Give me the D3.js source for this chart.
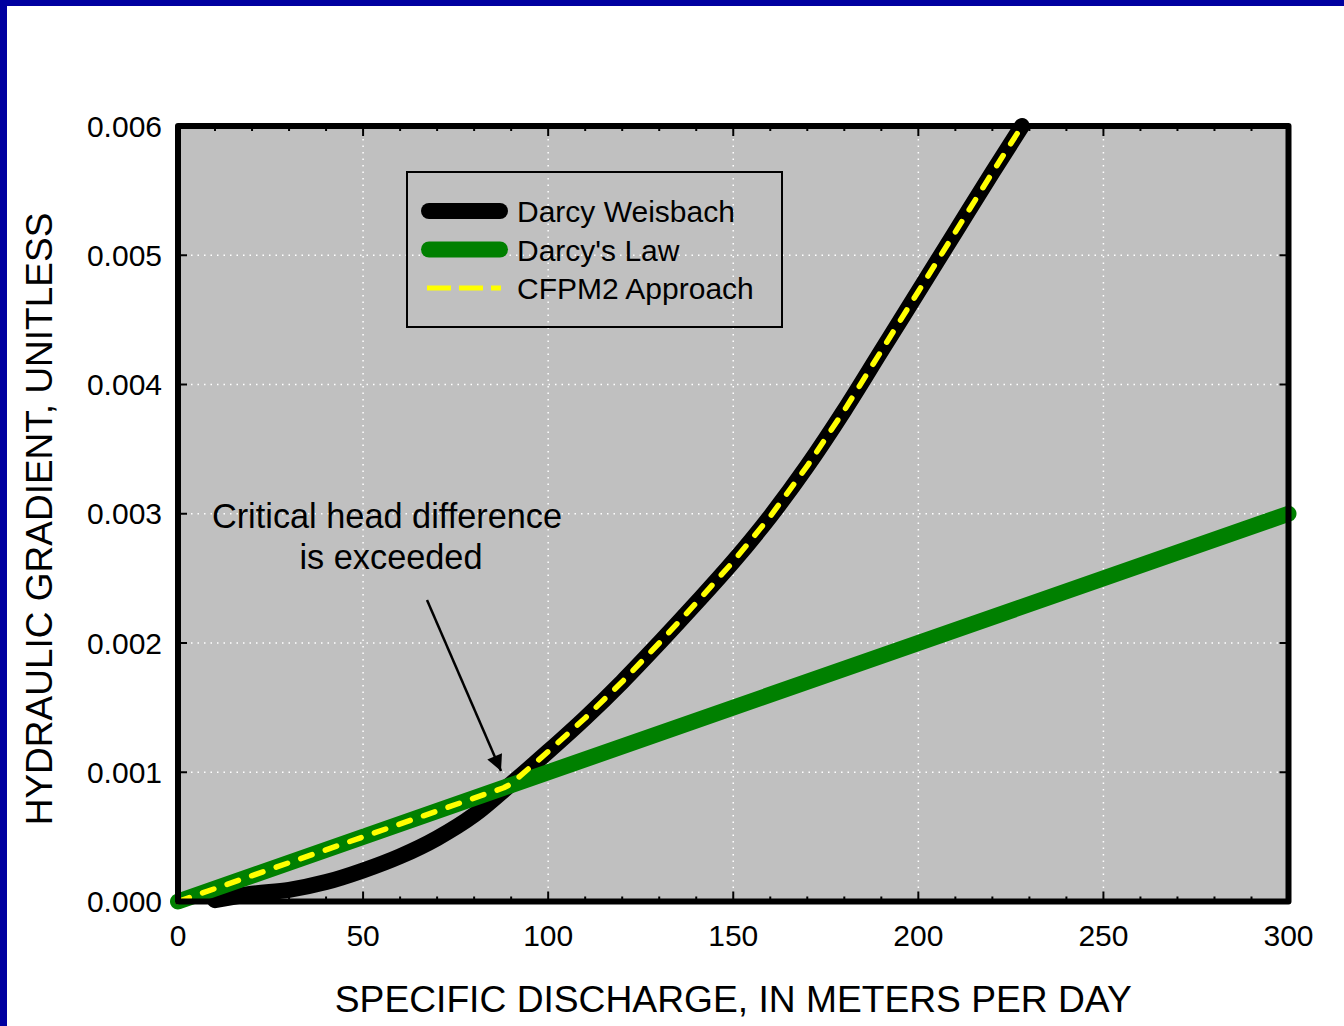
<!DOCTYPE html>
<html lang="en">
<head>
    <meta charset="UTF-8">
    <title>Hydraulic gradient vs specific discharge</title>
    <script src="https://cdn.jsdelivr.net/npm/d3@7"></script>
    <style>
        html, body { margin: 0; padding: 0; background: #fff; }
        svg { display: block; font-family: Arial, 'Liberation Sans', sans-serif; }
        .grid line { stroke: #fff; stroke-width: 1.5; stroke-dasharray: 1.5 5; }
        .lbl { font-size: 30px; fill: #000; }
    </style>
</head>
<body>
<svg id="chart" width="1344" height="1026"></svg>
<script>
// specific discharge (m/d) and hydraulic gradient
var dwQ = [10, 20, 30, 40, 50, 60, 70, 80, 90, 100, 110, 120, 130, 140, 150, 160, 170, 180, 190, 200, 210, 220, 228];
var dwI = [0.00001, 0.00006, 0.00009, 0.00015, 0.00024, 0.00035, 0.00049, 0.00067, 0.00091, 0.00116, 0.00142, 0.00170,
           0.00200, 0.00231, 0.00263, 0.00298, 0.00337, 0.00380, 0.00426, 0.00472, 0.00518, 0.00564, 0.00600];
var dlQ = [0, 300];
var dlI = [0, 0.003];
var cfQ = [0, 88, 90, 100, 110, 120, 130, 140, 150, 160, 170, 180, 190, 200, 210, 220, 228];
var cfI = [0, 0.00088, 0.00091, 0.00116, 0.00142, 0.00170, 0.00200, 0.00231, 0.00263, 0.00298, 0.00337, 0.00380,
           0.00426, 0.00472, 0.00518, 0.00564, 0.00600];

var xTicks = [0, 50, 100, 150, 200, 250, 300];
var yTicks = [0, 0.001, 0.002, 0.003, 0.004, 0.005, 0.006];
var legendNames = ["Darcy Weisbach", "Darcy's Law", "CFPM2 Approach"];

var svg = d3.select('#chart');

// blue frame at top and left
svg.append('rect').attr('x', 0).attr('y', 0).attr('width', 1344).attr('height', 6).attr('fill', '#0000A0');
svg.append('rect').attr('x', 0).attr('y', 0).attr('width', 7).attr('height', 1026).attr('fill', '#0000A0');

var x = d3.scaleLinear().domain([0, 300]).range([178, 1288.5]);
var y = d3.scaleLinear().domain([0, 0.006]).range([901.5, 126]);

// plot background
svg.append('rect')
    .attr('x', x(0)).attr('y', y(0.006))
    .attr('width', x(300) - x(0)).attr('height', y(0) - y(0.006))
    .attr('fill', '#C0C0C0');

// dotted grid
var grid = svg.append('g').attr('class', 'grid');
grid.selectAll('.gx').data(xTicks.slice(1, -1)).enter().append('line')
    .attr('x1', d => x(d)).attr('x2', d => x(d))
    .attr('y1', y(0.006)).attr('y2', y(0));
grid.selectAll('.gy').data(yTicks.slice(1, -1)).enter().append('line')
    .attr('y1', d => y(d)).attr('y2', d => y(d))
    .attr('x1', x(0)).attr('x2', x(300));

// ticks pointing inward
var minor = d3.range(0, 301, 10);
var ticks = svg.append('g').attr('stroke', '#000').attr('stroke-width', 2);
minor.forEach(function (d) {
    var len = d % 50 === 0 ? 10 : 5;
    ticks.append('line').attr('x1', x(d)).attr('x2', x(d)).attr('y1', y(0)).attr('y2', y(0) - len);
    ticks.append('line').attr('x1', x(d)).attr('x2', x(d)).attr('y1', y(0.006)).attr('y2', y(0.006) + len);
});
yTicks.forEach(function (d) {
    ticks.append('line').attr('y1', y(d)).attr('y2', y(d)).attr('x1', x(0)).attr('x2', x(0) + 9);
    ticks.append('line').attr('y1', y(d)).attr('y2', y(d)).attr('x1', x(300)).attr('x2', x(300) - 9);
});

// tick labels
svg.selectAll('.xl').data(xTicks).enter().append('text')
    .attr('class', 'lbl')
    .attr('x', d => x(d)).attr('y', 946)
    .attr('text-anchor', 'middle')
    .text(d => d);
svg.selectAll('.yl').data(yTicks).enter().append('text')
    .attr('class', 'lbl')
    .attr('x', 162).attr('y', d => y(d) + 10.5)
    .attr('text-anchor', 'end')
    .text(d => d.toFixed(3));

// axis titles
svg.append('text')
    .attr('x', (x(0) + x(300)) / 2).attr('y', 1012)
    .attr('text-anchor', 'middle').attr('font-size', 37.2)
    .text('SPECIFIC DISCHARGE, IN METERS PER DAY');
svg.append('text')
    .attr('transform', 'translate(52,519) rotate(-90)')
    .attr('text-anchor', 'middle').attr('font-size', 37)
    .text('HYDRAULIC GRADIENT, UNITLESS');

// series
var line = d3.line().x(d => x(d[0])).y(d => y(d[1])).curve(d3.curveMonotoneX);
var dw = d3.zip(dwQ, dwI), dl = d3.zip(dlQ, dlI), cf = d3.zip(cfQ, cfI);

svg.append('path').datum(dw).attr('d', line)
    .attr('fill', 'none').attr('stroke', '#000').attr('stroke-width', 16)
    .attr('stroke-linecap', 'round').attr('stroke-linejoin', 'round');
svg.append('path').datum(dl).attr('d', line)
    .attr('fill', 'none').attr('stroke', '#008000').attr('stroke-width', 16)
    .attr('stroke-linecap', 'round');
svg.append('path').datum(cf).attr('d', line.curve(d3.curveLinear))
    .attr('fill', 'none').attr('stroke', '#FFFF00').attr('stroke-width', 5.5)
    .attr('stroke-dasharray', '12 14')
    .attr('stroke-linecap', 'round').attr('stroke-linejoin', 'round');

// plot border on top
svg.append('rect')
    .attr('x', x(0)).attr('y', y(0.006))
    .attr('width', x(300) - x(0)).attr('height', y(0) - y(0.006))
    .attr('fill', 'none').attr('stroke', '#000').attr('stroke-width', 6)
    .attr('stroke-linejoin', 'round');

// legend
var lg = svg.append('g');
lg.append('rect').attr('x', 407).attr('y', 172).attr('width', 375).attr('height', 155)
    .attr('fill', 'none').attr('stroke', '#000').attr('stroke-width', 2);
var lgStyle = [
    { stroke: '#000', w: 16, dash: null, x1: 429, x2: 500 },
    { stroke: '#008000', w: 16, dash: null, x1: 429, x2: 500 },
    { stroke: '#FFFF00', w: 5, dash: '24 8', x1: 427, x2: 501 }
];
legendNames.forEach(function (name, i) {
    var ly = 211 + i * 38.5;
    var s = lgStyle[i];
    lg.append('line').attr('x1', s.x1).attr('x2', s.x2).attr('y1', ly).attr('y2', ly)
        .attr('stroke', s.stroke).attr('stroke-width', s.w)
        .attr('stroke-linecap', s.dash ? 'butt' : 'round')
        .attr('stroke-dasharray', s.dash);
    lg.append('text').attr('class', 'lbl').attr('x', 517).attr('y', ly + 11)
        .attr('font-size', 30.6).text(name);
});

// annotation
svg.append('text').attr('x', 387).attr('y', 528).attr('text-anchor', 'middle').attr('font-size', 34.3)
    .text('Critical head difference');
svg.append('text').attr('x', 391).attr('y', 569).attr('text-anchor', 'middle').attr('font-size', 34.3)
    .text('is exceeded');

svg.append('defs').append('marker')
    .attr('id', 'arrow').attr('viewBox', '0 0 10 10')
    .attr('refX', 10).attr('refY', 5)
    .attr('markerWidth', 22).attr('markerHeight', 16)
    .attr('markerUnits', 'userSpaceOnUse')
    .attr('orient', 'auto')
    .append('path').attr('d', 'M0,0L10,5L0,10Z').attr('fill', '#000');
svg.append('line')
    .attr('x1', 427).attr('y1', 600).attr('x2', 501).attr('y2', 771)
    .attr('stroke', '#000').attr('stroke-width', 2.5)
    .attr('marker-end', 'url(#arrow)');
</script>
</body>
</html>
